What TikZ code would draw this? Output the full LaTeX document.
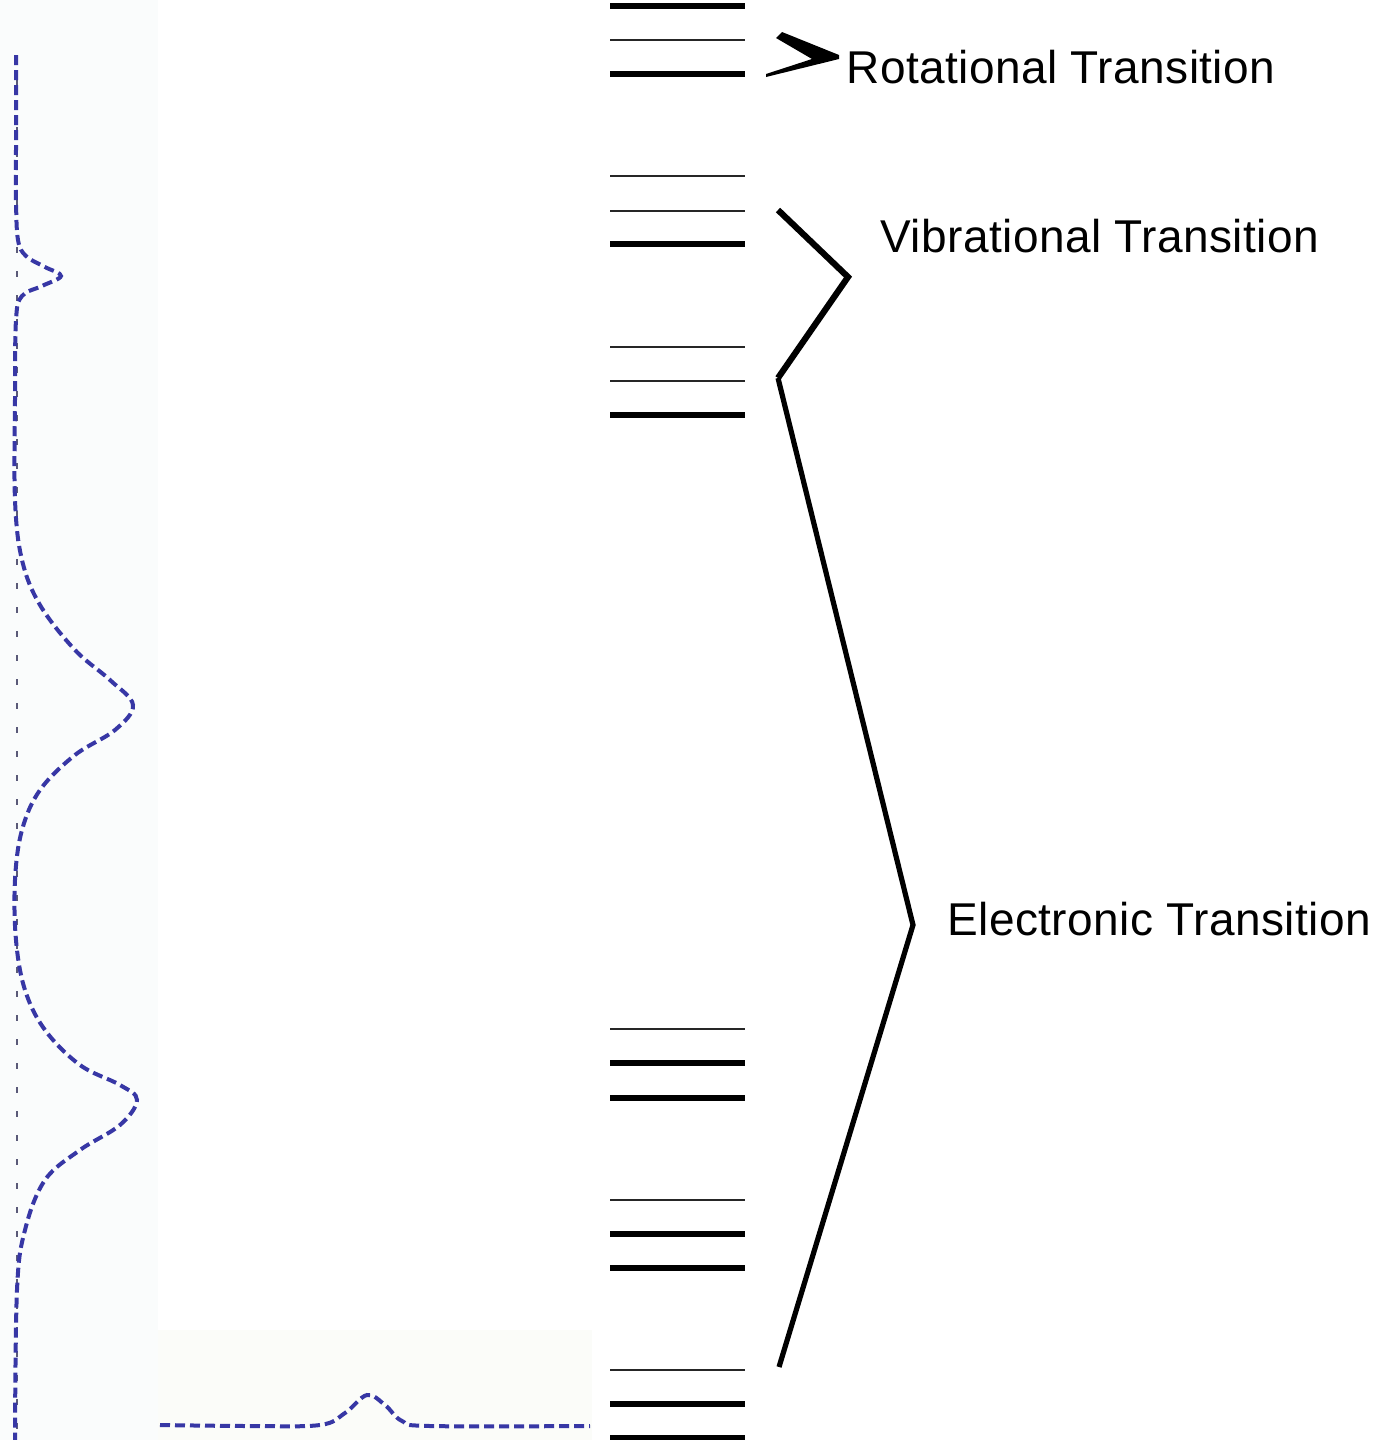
\documentclass[tikz,border=0pt]{standalone}
\usepackage{fontspec}
\setmainfont[LetterSpace=1]{Liberation Sans}
\definecolor{specblue}{RGB}{55,55,165}
\definecolor{basegray}{RGB}{90,90,120}
\definecolor{paneltint}{RGB}{250,252,252}
\definecolor{paneltintb}{RGB}{251,252,249}
\begin{document}
\begin{tikzpicture}[x=0.5pt,y=-0.5pt,
  thinlvl/.style={line width=1.25pt,black!85},
  thicklvl/.style={line width=2.6pt,black},
  spec/.style={line width=2pt,draw=specblue,dash pattern=on 5pt off 2.5pt},
  base/.style={line width=1.4pt,draw=basegray,dash pattern=on 3pt off 9pt},
  brace/.style={line width=2.6pt,black,line join=miter},
  lbl/.style={font=\fontsize{23pt}{26pt}\selectfont,anchor=base west,inner sep=0pt}]
\useasboundingbox (0,0) rectangle (1379,1440);
\fill[white] (0,0) rectangle (1379,1440);
\fill[paneltint] (0,0) rectangle (158,1440);
\fill[paneltintb] (158,1330) rectangle (592,1440);

% spectra
\draw[base] (17,55) -- (17,1440);
\draw[spec] plot[smooth,tension=0.6] coordinates {(16,55) (16,150) (16,200) (18,240) (26,256) (45,267) (61,276) (42,286) (22,296) (16,320) (15,400) (15,500) (22,560) (40,605) (75,650) (110,680) (133,705) (115,730) (75,755) (40,790) (22,830) (15,880) (16,940) (25,990) (45,1030) (80,1065) (120,1085) (137,1100) (120,1125) (80,1150) (45,1180) (25,1230) (17,1290) (15,1440)};
\draw[spec] plot[smooth,tension=0.6] coordinates {(160,1425) (250,1426) (320,1425) (345,1413) (367,1395) (385,1405) (402,1421) (430,1426) (590,1426)};

% energy levels
\foreach \y in {40,176,211,347,381,1029,1200,1370}
  \draw[thinlvl] (610,\y) -- (745,\y);
\foreach \y in {6,74,244,415,1063,1098,1234,1268,1404,1438}
  \draw[thicklvl] (610,\y) -- (745,\y);

% brackets
\coordinate (r1) at (776,38);
\fill[black] (r1) -- (782,32) -- (839,55) -- (839,59) -- (766,77) -- (766,74) -- (812,59) -- cycle;
\coordinate (v1) at (778,210);
\coordinate (v2) at (848,277);
\coordinate (v3) at (778,378);
\coordinate (e2) at (913,925);
\coordinate (e3) at (779,1367);
\draw[brace,line width=3.1pt] (v1) -- (v2) -- (v3);
\draw[brace] (v3) -- (e2) -- (e3);

% labels
\node[lbl] (rot) at (846,83) {Rotational Transition};
\node[lbl] (vib) at (880,252) {Vibrational Transition};
\node[lbl] (ele) at (947,935) {Electronic Transition};
\end{tikzpicture}
\end{document}
